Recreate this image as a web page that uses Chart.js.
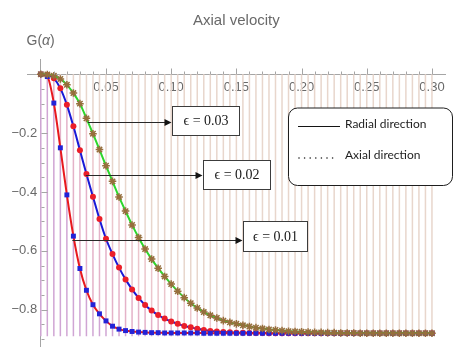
<!DOCTYPE html>
<html><head><meta charset="utf-8">
<script src="https://cdn.jsdelivr.net/npm/chart.js@4.4.1/dist/chart.umd.min.js"></script>
<style>html,body{margin:0;padding:0;background:#fff}#wrap{width:454px;height:352px}</style>
</head><body><div id="wrap"><canvas id="c" width="454" height="352"></canvas></div>
<script>
// ---- data ----
const alphaValues = [0,0.005,0.01,0.015,0.02,0.025,0.03,0.035,0.04,0.045,0.05,0.055,0.06,0.065,0.07,0.075,0.08,0.085,0.09,0.095,0.1,0.105,0.11,0.115,0.12,0.125,0.13,0.135,0.14,0.145,0.15,0.155,0.16,0.165,0.17,0.175,0.18,0.185,0.19,0.195,0.2,0.205,0.21,0.215,0.22,0.225,0.23,0.235,0.24,0.245,0.25,0.255,0.26,0.265,0.27,0.275,0.28,0.285,0.29,0.295,0.3];
const gEps001 = [0,-0.008,-0.098,-0.25,-0.41,-0.55,-0.66,-0.734,-0.783,-0.814,
 -0.838,-0.856,-0.866,-0.871,-0.874,-0.876,-0.877,-0.878,-0.878,-0.879,
 -0.879,-0.879,-0.879,-0.879,-0.879,-0.88,-0.88,-0.88,-0.88,-0.88,
 -0.88,-0.88,-0.88,-0.88,-0.88,-0.88,-0.88,-0.88,-0.88,-0.88,
 -0.88,-0.88,-0.88,-0.88,-0.88,-0.88,-0.88,-0.88,-0.88,-0.88,
 -0.88,-0.88,-0.88,-0.88,-0.88,-0.88,-0.88,-0.88,-0.88,-0.88,-0.88];
const gEps002 = [0,-0.003,-0.014,-0.048,-0.104,-0.177,-0.258,-0.339,-0.416,-0.492,
 -0.559,-0.611,-0.657,-0.697,-0.731,-0.76,-0.784,-0.803,-0.818,-0.83,
 -0.84,-0.848,-0.855,-0.86,-0.865,-0.869,-0.872,-0.874,-0.876,-0.877,
 -0.878,-0.878,-0.879,-0.879,-0.879,-0.88,-0.88,-0.88,-0.88,-0.88,
 -0.88,-0.88,-0.88,-0.88,-0.88,-0.88,-0.88,-0.88,-0.88,-0.88,
 -0.88,-0.88,-0.88,-0.88,-0.88,-0.88,-0.88,-0.88,-0.88,-0.88,-0.88];
const gEps003 = [0,-0.001,-0.005,-0.016,-0.036,-0.064,-0.1,-0.15,-0.202,-0.256,
 -0.311,-0.364,-0.417,-0.465,-0.512,-0.555,-0.594,-0.628,-0.659,-0.687,
 -0.713,-0.737,-0.759,-0.778,-0.794,-0.808,-0.819,-0.828,-0.837,-0.843,
 -0.848,-0.853,-0.857,-0.861,-0.864,-0.867,-0.869,-0.871,-0.873,-0.874,
 -0.875,-0.876,-0.877,-0.877,-0.878,-0.878,-0.879,-0.879,-0.879,-0.88,
 -0.88,-0.88,-0.88,-0.88,-0.88,-0.88,-0.88,-0.88,-0.88,-0.88,-0.88];
const fillBottom = -0.89;
const xTickValues = [0.05,0.10,0.15,0.20,0.25,0.30];
const yTickValues = [-0.8,-0.6,-0.4,-0.2];
const titleText = 'Axial velocity';
const epsLabels = ['\u03F5 = 0.01','\u03F5 = 0.02','\u03F5 = 0.03'];
const legendLabels = ['Radial direction','Axial direction'];

// ---- build ----
const pts = arr => alphaValues.map((a,i)=>({x:a,y:arr[i]}));
const band = (top,bot) => alphaValues.map((a,i)=>({x:a,y:[top===null?0:top[i], bot===null?fillBottom:bot[i]]}));
const barDs = (data,color) => ({type:'bar',data,backgroundColor:color,borderWidth:0,barThickness:1.5,grouped:false,order:5,inflateAmount:0});

const axisColor = 'rgb(165,165,165)';
const labelColor = 'rgb(105,105,105)';

// annotations in data coordinates
const annotations = [
  {label:epsLabels[2], ax:0.0362, ay:-0.163, left:0.101, right:0.1522, top:-0.109, bottom:-0.207},
  {label:epsLabels[1], ax:0.0344, ay:-0.341, left:0.1242, right:0.1758, top:-0.293, bottom:-0.391},
  {label:epsLabels[0], ax:0.0242, ay:-0.562, left:0.1548, right:0.2044, top:-0.498, bottom:-0.602}
];

const decor = {
  id:'decor',
  afterDraw(chart){
    const {ctx, scales:{x,y}} = chart;
    ctx.save();
    const y0 = Math.round(y.getPixelForValue(0))+0.5;
    const x0 = Math.round(x.getPixelForValue(0))+0.5;
    ctx.strokeStyle = axisColor; ctx.lineWidth = 1;
    ctx.beginPath();
    for (let k=1;k<=30;k++){
      const px = Math.round(x.getPixelForValue(k*0.01))+0.5;
      const len = (k%5===0)?6:3;
      ctx.moveTo(px,y0); ctx.lineTo(px,y0-len);
    }
    for (let k=1;k<=18;k++){
      const py = Math.round(y.getPixelForValue(-k*0.05))+0.5;
      const len = (k%4===0)?6:3;
      ctx.moveTo(x0,py); ctx.lineTo(x0+len,py);
    }
    ctx.stroke();

    // G(alpha)
    ctx.fillStyle = labelColor; ctx.textBaseline='middle'; ctx.textAlign='left';
    let gx = 26.5, gy = 41;
    ctx.font = '14px "Liberation Sans", Arial';
    ctx.fillText('G(', gx, gy); gx += ctx.measureText('G(').width;
    ctx.font = 'italic 14px "Liberation Sans", Arial';
    ctx.fillText('\u03B1', gx, gy); gx += ctx.measureText('\u03B1').width;
    ctx.font = '14px "Liberation Sans", Arial';
    ctx.fillText(')', gx, gy);

    annotations.forEach(a=>{
      const sx = x.getPixelForValue(a.ax), sy = Math.round(y.getPixelForValue(a.ay))+0.5;
      const l = Math.round(x.getPixelForValue(a.left))+0.5, r = Math.round(x.getPixelForValue(a.right))+0.5;
      const t = Math.round(y.getPixelForValue(a.top))+0.5, b = Math.round(y.getPixelForValue(a.bottom))+0.5;
      ctx.strokeStyle='rgb(40,40,40)'; ctx.fillStyle='rgb(20,20,20)'; ctx.lineWidth=1;
      ctx.beginPath(); ctx.moveTo(sx,sy); ctx.lineTo(l-6,sy); ctx.stroke();
      ctx.beginPath(); ctx.moveTo(l-1,sy); ctx.lineTo(l-8,sy-3.5); ctx.lineTo(l-8,sy+3.5); ctx.closePath(); ctx.fill();
      ctx.fillStyle='#fff'; ctx.fillRect(l,t,r-l,b-t);
      ctx.strokeStyle='rgb(60,60,60)'; ctx.strokeRect(l,t,r-l,b-t);
      ctx.fillStyle='rgb(25,25,25)'; ctx.textAlign='center'; ctx.textBaseline='middle';
      ctx.font = '14px "Liberation Serif", "DejaVu Serif", serif';
      ctx.fillText(a.label,(l+r)/2,(t+b)/2+0.5);
    });

    const L=288.5, R=452.5, T=108, B=185.5, rad=9;
    ctx.beginPath();
    ctx.moveTo(L+rad,T); ctx.lineTo(R-rad,T); ctx.arcTo(R,T,R,T+rad,rad); ctx.lineTo(R,B-rad);
    ctx.arcTo(R,B,R-rad,B,rad); ctx.lineTo(L+rad,B); ctx.arcTo(L,B,L,B-rad,rad); ctx.lineTo(L,T+rad);
    ctx.arcTo(L,T,L+rad,T,rad); ctx.closePath();
    ctx.fillStyle='#fff'; ctx.fill(); ctx.strokeStyle='rgb(30,30,30)'; ctx.lineWidth=1; ctx.stroke();
    ctx.beginPath(); ctx.moveTo(298,126.5); ctx.lineTo(340,126.5); ctx.strokeStyle='rgb(20,20,20)'; ctx.stroke();
    ctx.fillStyle='rgb(30,30,30)';
    for (let k=0;k<7;k++){ ctx.beginPath(); ctx.arc(299+k*5.6,158,0.8,0,Math.PI*2); ctx.fill(); }
    ctx.font = '14px Lato'; const w = ctx.measureText(legendLabels[0]).width;
    const fs = 14*81.5/w;
    ctx.font = fs.toFixed(2)+'px Lato';
    ctx.textAlign='left'; ctx.textBaseline='middle'; ctx.fillStyle='rgb(30,30,30)';
    ctx.fillText(legendLabels[0],345,124.5);
    ctx.fillText(legendLabels[1],345,155.5);
    ctx.restore();
  }
};

Chart.defaults.font.family = '"Liberation Sans", Arial, sans-serif';
new Chart(document.getElementById('c'), {
  type:'line',
  data:{datasets:[
    {data:pts(gEps001), borderColor:'rgb(232,25,30)', borderWidth:2, pointStyle:'rect', pointRadius:3.5,
     pointBackgroundColor:'rgb(35,35,215)', pointBorderColor:'rgb(35,35,215)', pointBorderWidth:0, cubicInterpolationMode:'monotone', order:1, clip:false},
    {data:pts(gEps002), borderColor:'rgb(25,25,215)', borderWidth:2, pointStyle:'circle', pointRadius:3,
     pointBackgroundColor:'rgb(235,30,40)', pointBorderColor:'rgb(235,30,40)', pointBorderWidth:0, cubicInterpolationMode:'monotone', order:1, clip:false},
    {data:pts(gEps003), borderColor:'rgb(45,215,45)', borderWidth:2, pointStyle:'star', pointRadius:3.8,
     pointBackgroundColor:'rgb(150,110,60)', pointBorderColor:'rgb(150,110,60)', pointBorderWidth:1.5, cubicInterpolationMode:'monotone', order:0, clip:false},
    barDs(band(null,gEps003),'rgb(232,214,204)'),
    barDs(band(gEps003,gEps002),'rgb(236,198,204)'),
    barDs(band(gEps002,gEps001),'rgb(228,178,200)'),
    barDs(band(gEps001,null),'rgb(208,165,212)')
  ]},
  options:{
    responsive:false, animation:false, events:[], devicePixelRatio:1,
    layout:{padding:{left:27.76, right:9, top:0, bottom:0}},
    plugins:{legend:{display:false}, tooltip:{enabled:false},
      title:{display:true, text:titleText, color:labelColor, font:{size:15, weight:'normal'}, padding:{top:11.7, bottom:29.8}}},
    scales:{
      x:{type:'linear', min:-0.01, max:0.31, position:{y:0}, offset:false,
         afterFit(s){ s.height = 0; s.paddingLeft = 0; s.paddingRight = 0; },
         afterBuildTicks(s){ s.ticks = xTickValues.map(v=>({value:v})); },
         grid:{display:true, offset:false, drawOnChartArea:false, drawTicks:false, color:'rgba(0,0,0,0)'},
         border:{display:true, color:axisColor, width:1},
         ticks:{padding:5, color:labelColor, font:{size:13}, autoSkip:false, maxRotation:0, callback:v=>v.toFixed(2)}},
      y:{type:'linear', min:-0.925, max:0.05, position:{x:0}, beginAtZero:false,
         afterFit(s){ s.width = 0; s.paddingTop = 0; s.paddingBottom = 0; },
         afterBuildTicks(s){ s.ticks = yTickValues.map(v=>({value:v})); },
         grid:{display:true, drawOnChartArea:false, drawTicks:false, color:'rgba(0,0,0,0)'},
         border:{display:true, color:axisColor, width:1},
         ticks:{padding:5, color:labelColor, font:{size:13}, autoSkip:false, callback:v=>(v<0?'\u2212':'')+Math.abs(v).toFixed(1)+' '}}
    }
  },
  plugins:[decor]
});
</script></body></html>
